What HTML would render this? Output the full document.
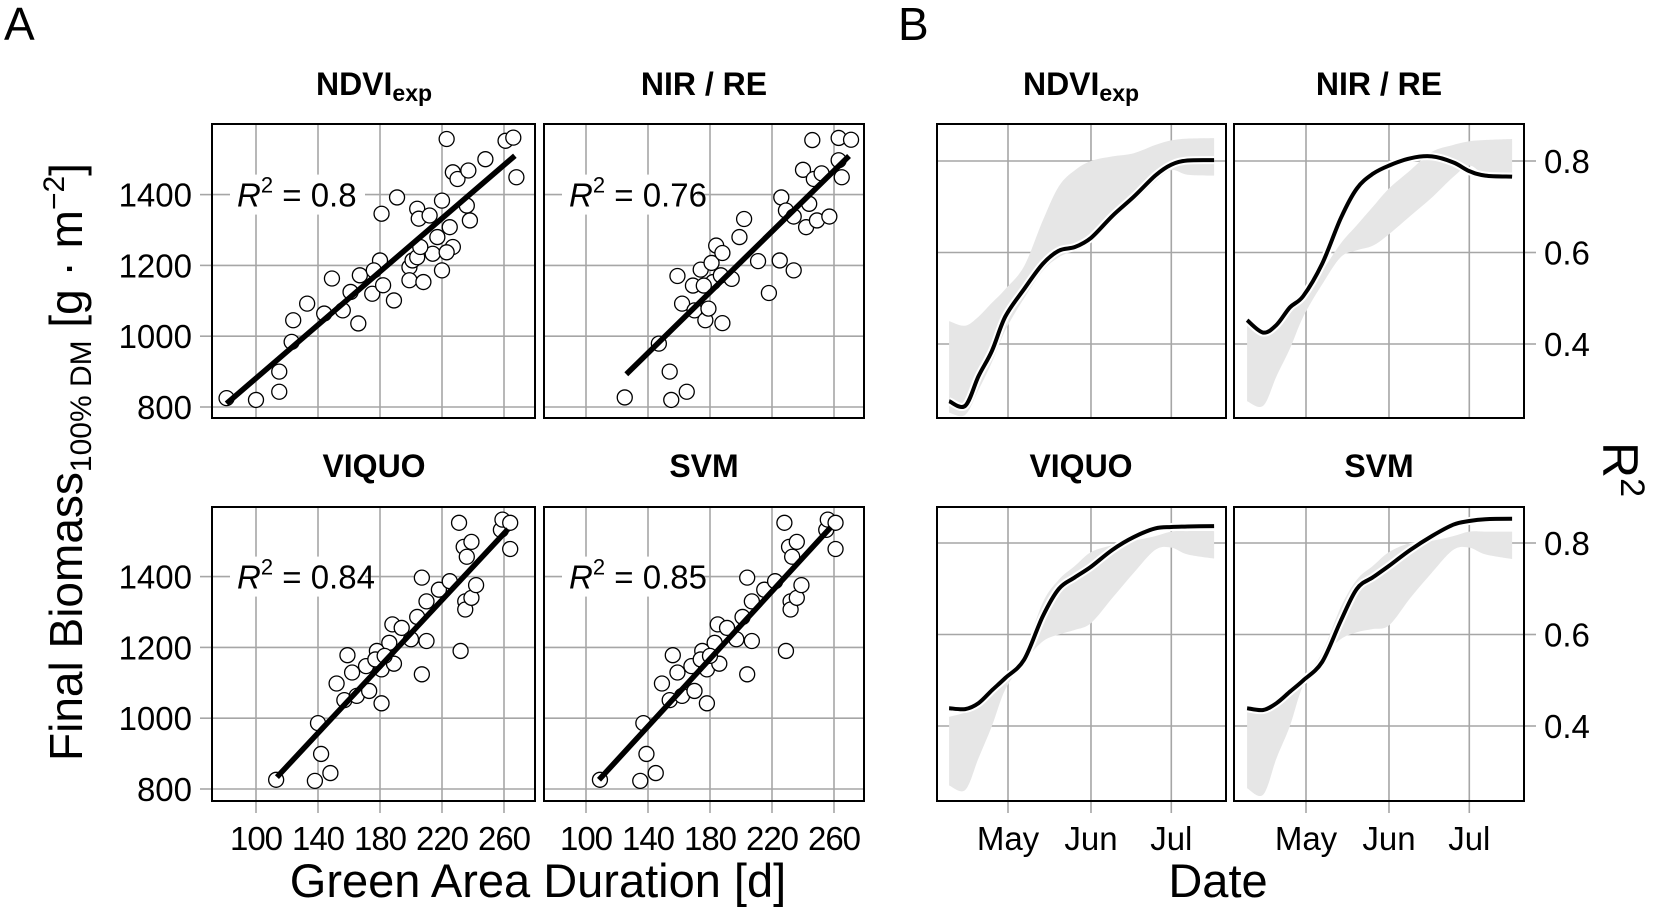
<!DOCTYPE html>
<html><head><meta charset="utf-8"><style>
html,body{margin:0;padding:0;background:#fff;}
svg{display:block;font-family:"Liberation Sans",Arial,sans-serif;}
</style></head><body>
<svg id="fig" width="1654" height="911" viewBox="0 0 1654 911" xmlns="http://www.w3.org/2000/svg">
<rect x="0" y="0" width="1654" height="911" fill="#fff"/>
<text x="4" y="40" font-size="46">A</text>
<text x="898" y="40" font-size="46">B</text>
<text x="374" y="95" font-size="32" font-weight="bold" text-anchor="middle">NDVI<tspan font-size="23" dy="6">exp</tspan></text>
<text x="704" y="95" font-size="32" font-weight="bold" text-anchor="middle">NIR / RE</text>
<text x="374" y="477" font-size="32" font-weight="bold" text-anchor="middle">VIQUO</text>
<text x="704" y="477" font-size="32" font-weight="bold" text-anchor="middle">SVM</text>
<text x="1081" y="95" font-size="32" font-weight="bold" text-anchor="middle">NDVI<tspan font-size="23" dy="6">exp</tspan></text>
<text x="1379" y="95" font-size="32" font-weight="bold" text-anchor="middle">NIR / RE</text>
<text x="1081" y="477" font-size="32" font-weight="bold" text-anchor="middle">VIQUO</text>
<text x="1379" y="477" font-size="32" font-weight="bold" text-anchor="middle">SVM</text>
<text transform="translate(82,462) rotate(-90)" font-size="46" text-anchor="middle">Final Biomass<tspan font-size="30" dy="9">100% DM</tspan><tspan dy="-9"> [g · m</tspan><tspan font-size="30" dy="-18">−2</tspan><tspan dy="18">]</tspan></text>
<text x="538" y="897" font-size="47" text-anchor="middle">Green Area Duration [d]</text>
<text x="1218" y="897" font-size="47" text-anchor="middle">Date</text>
<text transform="translate(1603,442) rotate(90)" font-size="50">R<tspan font-size="34" dy="-18">2</tspan></text>
</svg>
<script>
// ---------- Panel A data: Green Area Duration (x) vs Final Biomass (y) ----------
const ndviX = [81,100,115,115,123,124,133,144,149,156,161,166,167,175,180,182,189,181,191,204,205,199,199,201,208,212,214,217,220,220,223,225,227,223,227,230,237,238,236,248,261,266,268,204,206,176];
const ndviY = [825,820,843,900,984,1045,1092,1064,1163,1073,1125,1036,1172,1120,1214,1144,1101,1346,1392,1360,1332,1195,1158,1214,1153,1341,1233,1280,1383,1186,1557,1308,1252,1237,1463,1444,1468,1327,1369,1500,1552,1561,1449,1223,1252,1186];
const nirX = [125,155,165,154,147,162,170,177,188,179,159,169,174,182,181,187,194,184,188,199,202,211,218,225,234,226,229,234,244,242,249,257,240,247,252,265,263,246,263,271,176];
const nirY = [827,820,843,900,979,1092,1073,1045,1037,1078,1170,1143,1188,1153,1207,1172,1162,1256,1235,1280,1331,1212,1122,1214,1186,1392,1355,1338,1374,1308,1327,1338,1470,1444,1460,1449,1497,1554,1560,1555,1143];
const viquoX = [113,138,148,142,140,157,165,181,173,152,162,171,181,189,159,178,186,207,210,232,188,194,200,204,210,218,225,207,235,235,239,242,234,239,236,258,264,231,259,264,177,183];
const viquoY = [826,823,845,899,986,1051,1063,1042,1077,1098,1129,1147,1138,1154,1178,1190,1213,1124,1218,1190,1265,1255,1223,1286,1330,1363,1387,1397,1330,1307,1340,1376,1484,1498,1456,1532,1478,1552,1561,1552,1166,1176];
const svmX = [109,135,145,139,137,154,162,178,170,149,159,168,178,186,156,175,183,204,207,229,185,191,197,201,207,215,222,204,232,232,236,239,231,236,233,255,261,228,256,261,174,180];
const svmY = [826,823,845,899,986,1051,1063,1042,1077,1098,1129,1147,1138,1154,1178,1190,1213,1124,1218,1190,1265,1255,1223,1286,1330,1363,1387,1397,1330,1307,1340,1376,1484,1498,1456,1532,1478,1552,1561,1552,1166,1176];
const fitSlope = [3.763, 4.29, 4.70, 4.77];
const fitIntercept = [505, 352, 300, 309];
const fitStart = [81, 126, 113.5, 108.4];
const fitEnd = [267, 269.7, 262.6, 258];
const r2Labels = ["0.8", "0.76", "0.84", "0.85"];
const gadTicks = [100, 140, 180, 220, 260];
const biomassTicks = [800, 1000, 1200, 1400];

// ---------- Panel B data: R² over the season (day of year) ----------
const dates = [99,105,110,115,120,127,134,140,146,152,160,168,176,182,188,198];
const ndviR2 = [0.275,0.265,0.33,0.385,0.46,0.52,0.575,0.604,0.612,0.632,0.68,0.722,0.768,0.792,0.801,0.802];
const ndviUpper = [0.45,0.44,0.46,0.49,0.52,0.57,0.67,0.745,0.78,0.80,0.81,0.817,0.835,0.845,0.849,0.85];
const ndviLower = [0.25,0.245,0.30,0.36,0.43,0.50,0.56,0.59,0.605,0.625,0.67,0.71,0.755,0.78,0.77,0.768];
const nirR2 = [0.452,0.425,0.442,0.48,0.505,0.575,0.675,0.74,0.772,0.79,0.806,0.81,0.797,0.778,0.768,0.766];
const nirUpper = [0.45,0.43,0.45,0.48,0.51,0.56,0.62,0.66,0.70,0.74,0.78,0.82,0.835,0.843,0.846,0.848];
const nirLower = [0.275,0.265,0.33,0.39,0.46,0.53,0.59,0.605,0.615,0.64,0.68,0.72,0.765,0.79,0.77,0.765];
const viquoR2 = [0.439,0.437,0.45,0.478,0.505,0.545,0.64,0.70,0.725,0.748,0.785,0.813,0.832,0.835,0.836,0.837];
const viquoUpper = [0.42,0.43,0.45,0.47,0.50,0.56,0.67,0.72,0.75,0.78,0.795,0.805,0.815,0.825,0.826,0.826];
const viquoLower = [0.27,0.26,0.33,0.40,0.48,0.54,0.585,0.60,0.61,0.625,0.68,0.735,0.785,0.79,0.775,0.766];
const svmR2 = [0.439,0.435,0.45,0.475,0.50,0.54,0.63,0.70,0.725,0.75,0.785,0.815,0.84,0.848,0.852,0.853];
const svmUpper = [0.43,0.43,0.45,0.47,0.50,0.56,0.66,0.72,0.75,0.78,0.80,0.805,0.815,0.825,0.825,0.825];
const svmLower = [0.264,0.25,0.33,0.40,0.49,0.55,0.59,0.605,0.612,0.62,0.68,0.735,0.785,0.79,0.775,0.765];
const monthTicks = [121, 152, 182];
const monthLabels = ["May", "Jun", "Jul"];
const r2Ticks = [0.4, 0.6, 0.8];
const r2TickLabels = ["0.4", "0.6", "0.8"];

const NS = "http://www.w3.org/2000/svg";
const svg = document.getElementById('fig');
function mk(tag, attrs) {
  const e = document.createElementNS(NS, tag);
  for (const k in attrs) e.setAttribute(k, attrs[k]);
  svg.appendChild(e);
  return e;
}
const GRID = "#a6a6a6";

const aLeft = [212, 544, 212, 544], aRight = [535, 864, 535, 864];
const aTop = [124, 124, 507, 507], aBot = [418, 418, 801, 801];
const aX100 = [256, 586, 256, 586], aY800 = [407, 407, 789, 789];
function xA(v, p) { return aX100[p] + (v - 100) * 1.55; }
function yA(v, p) { return aY800[p] - (v - 800) * 0.354; }

const bLeft = [937, 1234, 937, 1234], bRight = [1226, 1524, 1226, 1524];
const bTop = [124, 124, 507, 507], bBot = [418, 418, 801, 801];
const bMay = [1008, 1306, 1008, 1306], bY08 = [161, 161, 543, 543];
function xB(d, p) { return bMay[p] + (d - 121) * 2.677; }
function yB(v, p) { return bY08[p] + (0.8 - v) * 457.5; }

const scatterX = [ndviX, nirX, viquoX, svmX];
const scatterY = [ndviY, nirY, viquoY, svmY];
const pNames = ["ndvi", "nirre", "viquo", "svm"];

for (let p = 0; p < 4; p++) {
  const n = pNames[p];
  gadTicks.forEach(t => {
    const g = mk('line', {x1: xA(t,p), x2: xA(t,p), y1: aTop[p], y2: aBot[p], stroke: GRID, 'stroke-width': 1.6});
    
    
  });
  biomassTicks.forEach(t => {
    const g = mk('line', {x1: aLeft[p], x2: aRight[p], y1: yA(t,p), y2: yA(t,p), stroke: GRID, 'stroke-width': 1.6});
    
    
  });
  if (p % 2 === 0) {
    biomassTicks.forEach(t => {
      const tk = mk('line', {x1: aLeft[p] - 12, x2: aLeft[p], y1: yA(t,p), y2: yA(t,p), stroke: GRID, 'stroke-width': 1.6});
      
      
      const lb = mk('text', {x: aLeft[p] - 20, y: yA(t,p) + 12, 'font-size': 33, 'text-anchor': 'end'});
      lb.textContent = t;
      
      
    });
  }
  if (p >= 2) {
    gadTicks.forEach(t => {
      const tk = mk('line', {x1: xA(t,p), x2: xA(t,p), y1: aBot[p], y2: aBot[p] + 12, stroke: GRID, 'stroke-width': 1.6});
      
      
      const lb = mk('text', {x: xA(t,p), y: 850, 'font-size': 33, 'text-anchor': 'middle', 'letter-spacing': '-1'});
      lb.textContent = t;
      
      
    });
  }
  const ry = yA(1400, p);
  const bg = mk('rect', {x: aLeft[p] + 18, y: ry - 20, width: 135, height: 40, fill: '#fff'});
  
  
  const rl = mk('text', {x: aLeft[p] + 25, y: ry + 12, 'font-size': 33});
  rl.innerHTML = '<tspan font-style="italic">R</tspan><tspan font-size="22" dy="-14">2</tspan><tspan dy="14"> = ' + r2Labels[p] + '</tspan>';
  
  
  const xs = scatterX[p], ys = scatterY[p];
  for (let i = 0; i < xs.length; i++) {
    const c = mk('circle', {cx: xA(xs[i],p), cy: yA(ys[i],p), r: 7.5, fill: '#fff', stroke: '#000', 'stroke-width': 1.3});
    
    
  }
  const x0 = fitStart[p], x1 = fitEnd[p];
  const fl = mk('line', {x1: xA(x0,p), y1: yA(fitSlope[p]*x0 + fitIntercept[p], p), x2: xA(x1,p), y2: yA(fitSlope[p]*x1 + fitIntercept[p], p), stroke: '#000', 'stroke-width': 5.5});
  
  
  const fr = mk('rect', {x: aLeft[p], y: aTop[p], width: aRight[p] - aLeft[p], height: aBot[p] - aTop[p], fill: 'none', stroke: '#000', 'stroke-width': 2});
  
  
}

function smoothPath(pts, move) {
  let d = (move ? 'M' : 'L') + pts[0][0].toFixed(1) + ',' + pts[0][1].toFixed(1);
  for (let i = 0; i < pts.length - 1; i++) {
    const p0 = pts[Math.max(0, i-1)], p1 = pts[i], p2 = pts[i+1], p3 = pts[Math.min(pts.length-1, i+2)];
    const c1x = p1[0] + (p2[0]-p0[0])/6, c1y = p1[1] + (p2[1]-p0[1])/6;
    const c2x = p2[0] - (p3[0]-p1[0])/6, c2y = p2[1] - (p3[1]-p1[1])/6;
    d += ' C' + c1x.toFixed(1) + ',' + c1y.toFixed(1) + ' ' + c2x.toFixed(1) + ',' + c2y.toFixed(1) + ' ' + p2[0].toFixed(1) + ',' + p2[1].toFixed(1);
  }
  return d;
}
const lines = [ndviR2, nirR2, viquoR2, svmR2];
const uppers = [ndviUpper, nirUpper, viquoUpper, svmUpper];
const lowers = [ndviLower, nirLower, viquoLower, svmLower];

for (let p = 0; p < 4; p++) {
  const n = pNames[p];
  monthTicks.forEach(t => {
    const g = mk('line', {x1: xB(t,p), x2: xB(t,p), y1: bTop[p], y2: bBot[p], stroke: GRID, 'stroke-width': 1.6});
    
    
  });
  r2Ticks.forEach(t => {
    const g = mk('line', {x1: bLeft[p], x2: bRight[p], y1: yB(t,p), y2: yB(t,p), stroke: GRID, 'stroke-width': 1.6});
    
    
  });
  if (p % 2 === 1) {
    r2Ticks.forEach((t, i) => {
      const tk = mk('line', {x1: bRight[p], x2: bRight[p] + 12, y1: yB(t,p), y2: yB(t,p), stroke: GRID, 'stroke-width': 1.6});
      
      
      const lb = mk('text', {x: bRight[p] + 20, y: yB(t,p) + 12, 'font-size': 33});
      lb.textContent = r2TickLabels[i];
      
      
    });
  }
  if (p >= 2) {
    monthTicks.forEach((t, i) => {
      const tk = mk('line', {x1: xB(t,p), x2: xB(t,p), y1: bBot[p], y2: bBot[p] + 12, stroke: GRID, 'stroke-width': 1.6});
      
      
      const lb = mk('text', {x: xB(t,p), y: 850, 'font-size': 33, 'text-anchor': 'middle'});
      lb.textContent = monthLabels[i];
      
      
    });
  }
  const up = dates.map((d, i) => [xB(d,p), yB(uppers[p][i],p)]);
  const lo = dates.map((d, i) => [xB(d,p), yB(lowers[p][i],p)]).reverse();
  const band = mk('path', {d: smoothPath(up, true) + ' ' + smoothPath(lo, false) + ' Z', fill: '#e6e6e6', stroke: 'none'});
  
  
  const pts = dates.map((d, i) => [xB(d,p), yB(lines[p][i],p)]);
  const halo = mk('path', {d: smoothPath(pts, true), fill: 'none', stroke: '#fff', 'stroke-width': 8, 'stroke-linejoin': 'round'});
  
  
  const ln = mk('path', {d: smoothPath(pts, true), fill: 'none', stroke: '#000', 'stroke-width': 4, 'stroke-linejoin': 'round'});
  
  
  const fr = mk('rect', {x: bLeft[p], y: bTop[p], width: bRight[p] - bLeft[p], height: bBot[p] - bTop[p], fill: 'none', stroke: '#000', 'stroke-width': 2});
  
  
}
</script>
</body></html>
